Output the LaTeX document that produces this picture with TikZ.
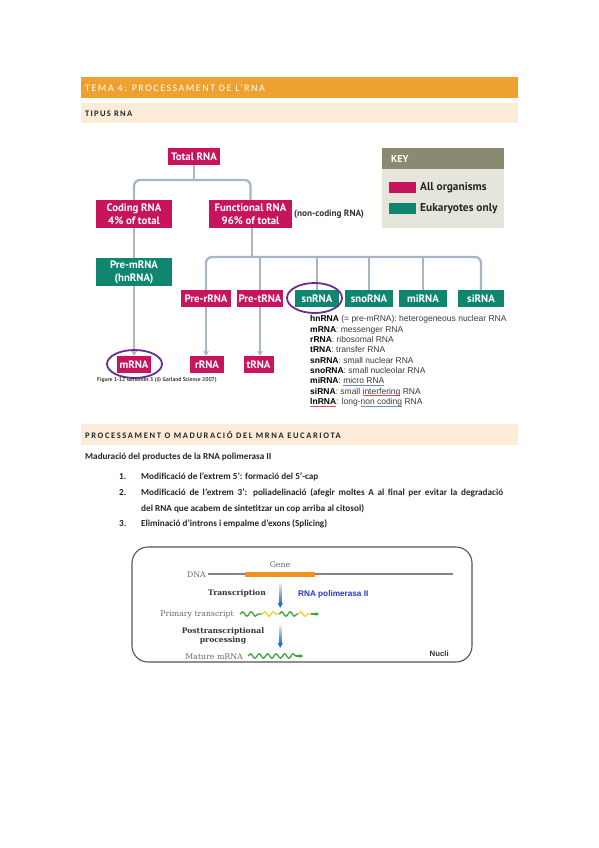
\documentclass[tikz,border=0pt]{standalone}
\usepackage{fontspec}
\setmainfont{Carlito}
\newfontfamily\diag{PT Sans}
\newfontfamily\arial{Liberation Sans}
\newfontfamily\serifx{DejaVu Serif}
\newfontfamily\spaced[LetterSpace=15]{Carlito}
\newfontfamily\spacedb[LetterSpace=19]{Carlito}
\usetikzlibrary{arrows.meta,decorations.pathmorphing,shapes.geometric}
\definecolor{hdrorange}{HTML}{EFA12F}
\definecolor{hdrtan}{HTML}{FBEBD7}
\definecolor{rnapink}{HTML}{C8145C}
\definecolor{rnagreen}{HTML}{0F8770}
\definecolor{treeline}{HTML}{A9B7C5}
\definecolor{keyhead}{HTML}{8A8A73}
\definecolor{keybody}{HTML}{E6E5DC}
\definecolor{ringpurple}{HTML}{6A2D8F}
\definecolor{deftext}{HTML}{3A3A3A}
\definecolor{ulblue}{HTML}{6A8FD8}
\definecolor{ulred}{HTML}{E0505A}
\definecolor{boxgrey}{HTML}{555555}
\definecolor{dnagrey}{HTML}{858585}
\definecolor{geneorange}{HTML}{F0921E}
\definecolor{wavegreen}{HTML}{3AA53A}
\definecolor{waveyellow}{HTML}{F2D21E}
\definecolor{arrowblue}{HTML}{1E6FD0}
\definecolor{polblue}{HTML}{2A35C8}
\newcommand\ulcol[2]{\setbox0\hbox{#2}\leavevmode\rlap{\textcolor{#1}{\rule[-1.6pt]{\wd0}{0.6pt}}}\box0\relax}
\tikzset{
  bar/.style={inner sep=0, anchor=west},
  rnabox/.style={inner sep=0, font=\diag\bfseries\fontsize{10.8}{13}\selectfont, text=white, align=center},
  pinkbox/.style={rnabox, fill=rnapink},
  greenbox/.style={rnabox, fill=rnagreen},
  tree/.style={draw=treeline, line width=2.3pt, rounded corners=6pt},
  treearrow/.style={tree, -{Stealth[length=5pt,width=6pt]}},
  ring/.style={ellipse, draw=ringpurple, line width=1.8pt, inner sep=0},
  bodytext/.style={inner sep=0, anchor=west, font=\bfseries\fontsize{9.2}{10}\selectfont, text=black!85},
  wave/.style={line width=1.3pt, decorate, decoration={snake, amplitude=2.2pt, segment length=8.5pt}},
  diagtext/.style={inner sep=0, font=\serifx\fontsize{7.8}{8.5}\selectfont, text=black!60},
  diagbold/.style={inner sep=0, font=\serifx\bfseries\fontsize{7.6}{9.6}\selectfont, text=black!80, align=center},
}
\begin{document}
\begin{tikzpicture}[x=1pt,y=-1pt]
\fill[white] (0,0) rectangle (599,848);
\useasboundingbox (0,0) rectangle (599,848);

% --- header bars ---
\fill[hdrorange] (81,77) rectangle (518,98);
\node[bar, text=white, font=\spaced\fontsize{10}{11}\selectfont] (title) at (85,88) {TEMA 4: PROCESSAMENT DE L’RNA};
\fill[hdrtan] (81,103) rectangle (518,123);
\node[bar, text=black!85, font=\spaced\bfseries\fontsize{8.5}{10}\selectfont] (tipus) at (85,113.5) {TIPUS RNA};

% --- RNA tree ---
\node[pinkbox, minimum width=52, minimum height=17] (total) at (194,156.5) {Total RNA};
\node[pinkbox, minimum width=76, minimum height=28] (coding) at (134,214) {Coding RNA\\4\% of total};
\node[pinkbox, minimum width=83, minimum height=28] (functional) at (250.5,214) {Functional RNA\\96\% of total};
\node[inner sep=0, anchor=west, font=\diag\bfseries\fontsize{9.2}{10}\selectfont, text=black!80] (noncoding) at (294,214.5) {(non-coding RNA)};
\node[greenbox, minimum width=76, minimum height=28] (premrna) at (134,272) {Pre-mRNA\\(hnRNA)};
\node[pinkbox, minimum width=50, minimum height=17] (prerrna) at (206,298.5) {Pre-rRNA};
\node[pinkbox, minimum width=46, minimum height=17] (pretrna) at (260,298.5) {Pre-tRNA};
\node[greenbox, minimum width=44, minimum height=17] (snrna) at (317,298.5) {snRNA};
\node[greenbox, minimum width=48, minimum height=17] (snorna) at (369,298.5) {snoRNA};
\node[greenbox, minimum width=48, minimum height=17] (mirna) at (423,298.5) {miRNA};
\node[greenbox, minimum width=46, minimum height=17] (sirna) at (481,298.5) {siRNA};
\node[pinkbox, minimum width=34, minimum height=17] (mrna) at (134,364.5) {mRNA};
\node[pinkbox, minimum width=34, minimum height=17] (rrna) at (207,364.5) {rRNA};
\node[pinkbox, minimum width=30, minimum height=17] (trna) at (258.5,364.5) {tRNA};

\coordinate (hub1) at (194,180);
\coordinate (hub2) at (252,257);
\draw[tree] (total.south) -- (hub1);
\draw[tree] (coding.north) |- (hub1) -| (functional.north);
\draw[tree] (coding.south) -- (premrna.north);
\draw[tree] (functional.south -| hub2) -- (hub2);
\draw[tree] (prerrna.north) |- (hub2) -| (sirna.north);
\draw[tree] (pretrna.north) -- (pretrna.north |- hub2);
\draw[tree] (snrna.north) -- (snrna.north |- hub2);
\draw[tree] (snorna.north) -- (snorna.north |- hub2);
\draw[tree] (mirna.north) -- (mirna.north |- hub2);
\draw[treearrow] (premrna.south) -- (mrna.north);
\draw[treearrow] (prerrna.south) -- (prerrna.south |- rrna.north);
\draw[treearrow] (pretrna.south) -- (pretrna.south |- trna.north);

\node[ring, minimum width=55, minimum height=28] (ringm) at (134.5,364) {};
\node[ring, minimum width=55, minimum height=30] (rings) at (314.5,298) {};

\node[inner sep=0, anchor=west, font=\diag\bfseries\fontsize{5.6}{6}\selectfont, text=black!75] (caption) at (97,380.5) {Figure 1-12 Genomes 3 (© Garland Science 2007)};

% key
\fill[keyhead] (382,148) rectangle (504,169);
\fill[keybody] (382,169) rectangle (504,228);
\node[inner sep=0, anchor=west, text=white, font=\diag\bfseries\fontsize{10}{11}\selectfont] (keytitle) at (391,158.5) {KEY};
\node[fill=rnapink, minimum width=27, minimum height=11, inner sep=0] (keypink) at (402.5,187.5) {};
\node[fill=rnagreen, minimum width=27, minimum height=11, inner sep=0] (keygreen) at (402.5,208.5) {};
\node[inner sep=0, anchor=west, font=\diag\bfseries\fontsize{11.4}{12}\selectfont, text=black!85] (keyall) at (420,187.5) {All organisms};
\node[inner sep=0, anchor=west, font=\diag\bfseries\fontsize{11.4}{12}\selectfont, text=black!85] (keyeuk) at (420,208.5) {Eukaryotes only};

% definitions
\node[inner sep=0, anchor=north west, align=left, text=deftext, font=\arial\fontsize{8.5}{10.35}\selectfont] (defs) at (310,315.5) {%
\textbf{\color{black}hnRNA} (= pre-mRNA): heterogeneous nuclear RNA\\
\textbf{\color{black}mRNA}: messenger RNA\\
\textbf{\color{black}rRNA}: ribosomal RNA\\
\textbf{\color{black}tRNA}: transfer RNA\\
\textbf{\color{black}snRNA}: small nuclear RNA\\
\textbf{\color{black}snoRNA}: small nucleolar RNA\\
\textbf{\color{black}miRNA}: \ulcol{ulblue}{micro RNA}\\
\textbf{\color{black}siRNA}: small \ulcol{ulred}{interfering} RNA\\
\ulcol{ulred}{\textbf{\color{black}lnRNA}}: long-\ulcol{ulblue}{non coding} RNA};

% --- second section ---
\fill[hdrtan] (81,424) rectangle (518,445);
\node[bar, text=black!85, font=\spacedb\bfseries\fontsize{8.5}{10}\selectfont] (sec2) at (85,434.5) {PROCESSAMENT O MADURACIÓ DEL MRNA EUCARIOTA};
\node[bodytext] (intro) at (85,456.5) {Maduració del productes de la RNA polimerasa II};
\node[bodytext] (n1) at (119,477) {1.};
\node[bodytext] (t1) at (141,477) {Modificació de l’extrem 5’: formació del 5’-cap};
\node[bodytext] (n2) at (119,493) {2.};
\node[bodytext] (t2) at (141,493) {\hbox to 362pt{Modificació de l’extrem 3’: poliadelinació (afegir moltes A al final per evitar la degradació}};
\node[bodytext] (t2b) at (141,508.5) {del RNA que acabem de sintetitzar un cop arriba al citosol)};
\node[bodytext] (n3) at (119,524) {3.};
\node[bodytext] (t3) at (141,524) {Eliminació d’introns i empalme d’exons (Splicing)};

% --- transcription box ---
\node[draw=boxgrey, line width=1.1pt, rounded corners=16pt, minimum width=340, minimum height=115, inner sep=0] (nucbox) at (302,604.5) {};
\coordinate (dnaL) at (208,574);
\coordinate (dnaR) at (453,574);
\coordinate (geneL) at (245,574);
\coordinate (geneR) at (315,574);
\draw[dnagrey, line width=1.6pt] (dnaL) -- (dnaR);
\draw[geneorange, line width=5pt] (geneL) -- (geneR);
\node[diagtext, anchor=east] (dna) at (206,574.5) {DNA};
\node[diagtext] (gene) at (280,565) {Gene};
\node[diagbold] (transc) at (237,593) {Transcription};
\node[inner sep=0, anchor=west, font=\arial\bfseries\fontsize{8.2}{9}\selectfont, text=polblue] (pol) at (298,594) {RNA polimerasa II};
\shade[top color=arrowblue!10, bottom color=arrowblue] (279,583) rectangle (281.4,603.5);
\fill[arrowblue] (277.6,603) -- (282.8,603) -- (280.2,608) -- cycle;
\node[diagtext, anchor=east] (primary) at (234,614.5) {Primary transcript};
\draw[wave, wavegreen] (240,614) -- (262,614);
\draw[wave, waveyellow] (262,614) -- (279,614);
\draw[wave, wavegreen] (279,614) -- (298,614);
\draw[wave, waveyellow] (298,614) -- (311,614);
\draw[wavegreen, line width=1.3pt, -{Stealth[length=3.5pt,width=4pt]}] (311,614) -- (319,614);
\node[diagbold] (post) at (223,636) {Posttranscriptional\\processing};
\shade[top color=arrowblue!10, bottom color=arrowblue] (279,625) rectangle (281.4,643.5);
\fill[arrowblue] (277.6,643) -- (282.8,643) -- (280.2,648) -- cycle;
\node[diagtext, anchor=east] (mature) at (243,656.5) {Mature mRNA};
\draw[wave, wavegreen] (248,656) -- (296,656);
\draw[wavegreen, line width=1.3pt, -{Stealth[length=3.5pt,width=4pt]}] (296,656) -- (303,656);
\node[inner sep=0, anchor=east, font=\arial\bfseries\fontsize{7.8}{9}\selectfont, text=black!80] (nucli) at (449,653.5) {Nucli};
\end{tikzpicture}
\end{document}
